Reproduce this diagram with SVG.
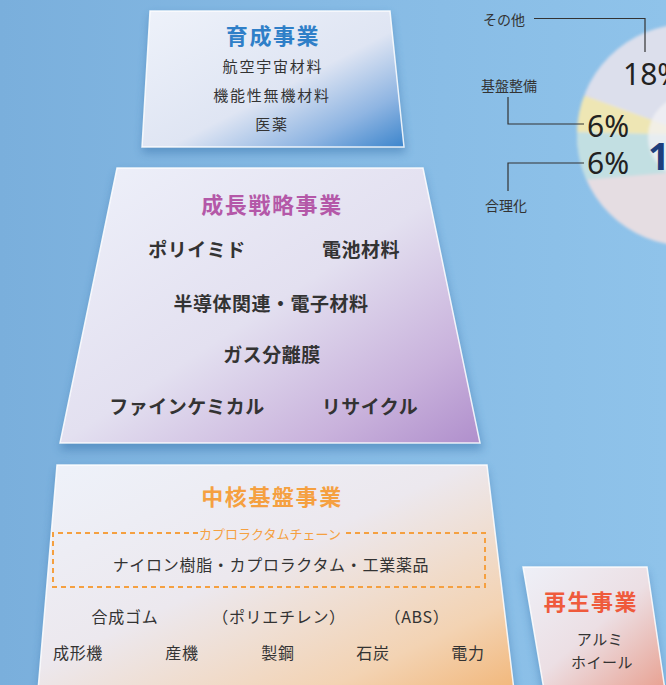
<svg xmlns="http://www.w3.org/2000/svg" width="666" height="685" viewBox="0 0 666 685">
<style>
.jp{font-family:"Noto Sans CJK JP","Noto Sans",sans-serif;text-anchor:middle;dominant-baseline:central;fill:#333}
.ttl{font-weight:bold;font-size:22px;letter-spacing:1.6px}
.s1{font-size:15px;letter-spacing:1.8px}
.s2{font-size:19px;font-weight:bold;letter-spacing:0.5px}
.s3{font-size:16px;letter-spacing:0.7px}
.s4{font-size:15px;letter-spacing:0.5px}
.lbl{font-family:"Noto Sans CJK JP","Noto Sans",sans-serif;font-size:14px;fill:#333;text-anchor:middle;dominant-baseline:central}
.pct{font-family:"Noto Sans","Liberation Sans",sans-serif;font-size:30px;fill:#222}
.card{stroke:#ffffff;stroke-opacity:0.85;stroke-width:1.5}
.shadow{fill:#2f6aa5;opacity:0.45;filter:url(#blur5)}
.conn{fill:none;stroke:#333;stroke-width:1.2}
</style>
<defs>
<linearGradient id="bg" x1="0" y1="0" x2="1" y2="0">
<stop offset="0" stop-color="#7aafdc"/><stop offset="0.5" stop-color="#86bae4"/><stop offset="1" stop-color="#8fc3ea"/>
</linearGradient>
<linearGradient id="gTop" x1="0" y1="0" x2="1" y2="1">
<stop offset="0" stop-color="#eef2fa"/><stop offset="0.55" stop-color="#dfe5f3"/><stop offset="0.8" stop-color="#8fb5e2"/><stop offset="1" stop-color="#3c85cc"/>
</linearGradient>
<linearGradient id="gMid" x1="0" y1="0" x2="1" y2="1">
<stop offset="0" stop-color="#eef1fa"/><stop offset="0.5" stop-color="#e3e0f0"/><stop offset="0.8" stop-color="#c9b2dc"/><stop offset="1" stop-color="#b08fcc"/>
</linearGradient>
<linearGradient id="gBot" x1="0" y1="0" x2="1" y2="1">
<stop offset="0" stop-color="#eef2fa"/><stop offset="0.45" stop-color="#ece8ee"/><stop offset="0.8" stop-color="#f3d3b3"/><stop offset="1" stop-color="#f2b77a"/>
</linearGradient>
<linearGradient id="gRec" x1="0" y1="0" x2="1" y2="1">
<stop offset="0" stop-color="#eef0f8"/><stop offset="0.5" stop-color="#ecdfe4"/><stop offset="1" stop-color="#e8a090"/>
</linearGradient>
<radialGradient id="gPie" cx="0.6" cy="0.5" r="0.6">
<stop offset="0" stop-color="#f0eef3"/><stop offset="1" stop-color="#dcdde8"/>
</radialGradient>
<filter id="blur5" x="-20%" y="-20%" width="140%" height="140%"><feGaussianBlur stdDeviation="5"/></filter>
<filter id="blur2" x="-20%" y="-20%" width="140%" height="140%"><feGaussianBlur stdDeviation="1.8"/></filter>
<clipPath id="pieClip"><circle cx="688" cy="135" r="111"/></clipPath>
</defs>

<rect x="0" y="0" width="666" height="685" fill="url(#bg)"/>

<g id="pie" filter="url(#blur2)">
<circle cx="688" cy="135" r="111" fill="url(#gPie)"/>
<g clip-path="url(#pieClip)">
<path d="M688,135 L585,93 A111,111 0 0 1 680,24 Z" fill="#dcdfec"/>
<path d="M688,135 L585,176 A111,111 0 0 0 690,246 Z" fill="#e5dde2"/>
<polygon points="560,87 666,125 700,135 560,132" fill="#eee6b4"/>
<polygon points="560,132 700,135 666,173 560,182" fill="#c2dfe2"/>
</g>
<circle cx="690" cy="137" r="42" fill="#f3f1f5" opacity="0.75"/>
</g>

<g id="node-ikusei">
<polygon class="shadow" points="150,15 390,15 406,153 142,153"/>
<polygon class="card" points="150,11 390,11 404,147 142,147" fill="url(#gTop)"/>
<text class="jp ttl" x="273" y="34" style="fill:#2f7fc8">育成事業</text>
<text class="jp s1" x="273" y="65">航空宇宙材料</text>
<text class="jp s1" x="272" y="94">機能性無機材料</text>
<text class="jp s1" x="272" y="123">医薬</text>
</g>

<g id="node-seicho">
<polygon class="shadow" points="117,172 423,172 483,450 60,450"/>
<polygon class="card" points="117,168 423,168 480,443 60,443" fill="url(#gMid)"/>
<text class="jp ttl" x="272" y="203" style="fill:#b458a8">成長戦略事業</text>
<text class="jp s2" x="197" y="248">ポリイミド</text>
<text class="jp s2" x="361" y="248">電池材料</text>
<text class="jp s2" x="271" y="302">半導体関連・電子材料</text>
<text class="jp s2" x="272" y="353">ガス分離膜</text>
<text class="jp s2" x="187" y="405">ファインケミカル</text>
<text class="jp s2" x="370" y="405">リサイクル</text>
</g>

<g id="node-chukaku">
<polygon class="shadow" points="57,469 487,469 516,700 38,700"/>
<polygon class="card" points="57,465 487,465 514,690 38,690" fill="url(#gBot)"/>
<text class="jp ttl" x="272" y="495" style="fill:#f5a040">中核基盤事業</text>
<path d="M198,533 H53 V587 H485 V533 H344" fill="none" stroke="#f5a040" stroke-width="2" stroke-dasharray="5 4"/>
<text class="jp" x="270" y="533" style="font-size:13px;fill:#f5a040">カプロラクタムチェーン</text>
<text class="jp s3" x="271" y="564">ナイロン樹脂・カプロラクタム・工業薬品</text>
<text class="jp s3" x="125" y="616">合成ゴム</text>
<text class="jp s3" x="279" y="616">（ポリエチレン）</text>
<text class="jp s3" x="417" y="616">（ABS）</text>
<text class="jp s3" x="78" y="652">成形機</text>
<text class="jp s3" x="182" y="652">産機</text>
<text class="jp s3" x="278" y="652">製鋼</text>
<text class="jp s3" x="373" y="652">石炭</text>
<text class="jp s3" x="468" y="652">電力</text>
</g>

<g id="node-saisei">
<polygon class="shadow" points="523,571 647,571 667,700 544,700"/>
<polygon class="card" points="523,567 647,567 665,690 544,690" fill="url(#gRec)"/>
<text class="jp ttl" x="591" y="600" style="fill:#ef5a3c">再生事業</text>
<text class="jp s4" x="600" y="638">アルミ</text>
<text class="jp s4" x="602" y="661">ホイール</text>
</g>

<g id="connectors">
<path class="conn" d="M534,18.5 H645 V52"/>
<path class="conn" d="M508,97 V124 H584"/>
<path class="conn" d="M584,163 H508 V191"/>
</g>

<g id="pie-labels">
<text class="lbl" x="504" y="19">その他</text>
<text class="lbl" x="509" y="85">基盤整備</text>
<text class="lbl" x="506" y="205">合理化</text>
<text class="pct" x="623" y="85">18%</text>
<text class="pct" x="587" y="137">6%</text>
<text class="pct" x="587" y="174">6%</text>
<text x="648" y="170" style="font-family:'Noto Sans','Liberation Sans',sans-serif;font-weight:bold;font-size:38px;fill:#1d3e7c">1,</text>
</g>
</svg>
